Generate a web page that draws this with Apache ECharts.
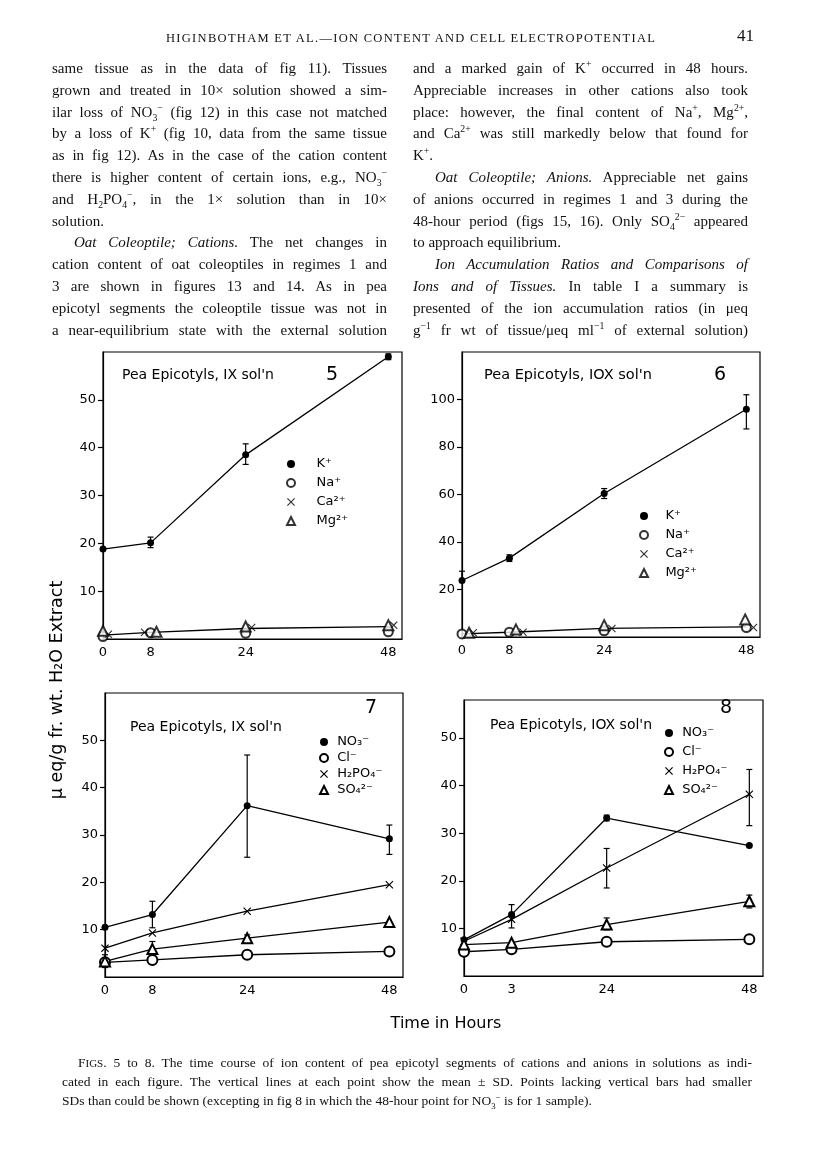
<!DOCTYPE html>
<html><head><meta charset="utf-8">
<script src="https://cdn.jsdelivr.net/npm/echarts@6.0.0/dist/echarts.min.js"></script>
<style>
html,body{margin:0;padding:0;background:#fff;}
#page{position:relative;width:816px;height:1152px;background:#fff;overflow:hidden;}
#chart{position:absolute;left:0;top:0;width:816px;height:1152px;}
.t{position:absolute;font-family:'Liberation Serif',serif;color:#111;white-space:nowrap;display:inline-block;}
.body{font-size:15px;line-height:20px;}
.cap{font-size:13.5px;line-height:18px;}
sub,sup{font-size:65%;line-height:0;}
.sc{font-size:11px;}
</style>
</head><body>
<div id="page"><div id="chart"></div><div id="txt"></div></div>
<script>
// ---------------- data ----------------
const hours = [0, 8, 24, 48];
const xLabels5 = ['0', '8', '24', '48'];
const xLabels6 = ['0', '8', '24', '48'];
const xLabels7 = ['0', '8', '24', '48'];
const xLabels8 = ['0', '3', '24', '48'];
const yTicks5 = [10, 20, 30, 40, 50];
const yTicks6 = [20, 40, 60, 80, 100];
const yTicks7 = [10, 20, 30, 40, 50];
const yTicks8 = [10, 20, 30, 40, 50];

// Fig 5 (cations, 1X)
const f5K = [18.8, 20.1, 38.5, 59.0];
const f5Na = [0.5, 1.3, 1.2, 1.5];
const f5CaX = [0.9, 7, 25, 48.9];
const f5Ca = [1.0, 1.4, 2.4, 2.9];
const f5MgX = [0, 9, 24, 48];
const f5Mg = [1.7, 1.5, 2.6, 2.9];
const f5Minor = [0.8, 1.4, 2.2, 2.6];
const f5Err = [[8, 19.1, 21.3], [24, 36.5, 40.8], [48, 58.4, 59.6]];

// Fig 6 (cations, 10X)
const f6K = [23.8, 33.2, 60.4, 95.9];
const f6Na = [1.3, 2.0, 2.6, 4.0];
const f6CaX = [1.9, 10.3, 25.3, 49.2];
const f6Ca = [1.8, 2.0, 3.6, 4.0];
const f6MgX = [1.2, 9.1, 24, 47.8];
const f6Mg = [1.8, 3.2, 5.0, 7.4];
const f6Minor = [1.3, 2.0, 3.6, 4.3];
const f6Err = [[0, 23.8, 27.7], [8, 31.8, 34.6], [24, 58.3, 62.5], [48, 87.6, 102]];

// Fig 7 (anions, 1X)
const f7NO3 = [10.5, 13.2, 36.2, 29.2];
const f7Cl = [3.1, 3.6, 4.7, 5.4];
const f7H2PO4 = [6.1, 9.3, 13.9, 19.5];
const f7SO4 = [3.3, 5.9, 8.2, 11.6];
const f7Err = [[0, 2.0, 4.7], [8, 10.4, 16.0], [8, 4.3, 7.5], [24, 25.3, 46.9], [24, 7.6, 8.9], [48, 25.9, 32.1]];

// Fig 8 (anions, 10X)
const f8NO3 = [7.6, 12.9, 33.2, 27.4];
const f8Cl = [5.1, 5.6, 7.2, 7.7];
const f8H2PO4 = [7.3, 11.9, 22.7, 38.2];
const f8SO4 = [6.6, 7.0, 10.8, 15.7];
const f8Err = [[8, 10.1, 15.0], [24, 32.6, 33.8], [24, 18.5, 26.8], [24, 9.7, 12.2], [48, 31.6, 43.4], [48, 14.3, 17.0]];

// ---------------- text ----------------
const headerText = 'HIGINBOTHAM ET AL.\u2014ION CONTENT AND CELL ELECTROPOTENTIAL';
const leftCol = [
  ['same tissue as in the data of fig 11). Tissues', 1],
  ['grown and treated in 10\u00d7 solution showed a sim-', 1],
  ['ilar loss of NO<sub>3</sub><sup>\u2212</sup> (fig 12) in this case not matched', 1],
  ['by a loss of K<sup>+</sup> (fig 10, data from the same tissue', 1],
  ['as in fig 12). As in the case of the cation content', 1],
  ['there is higher content of certain ions, e.g., NO<sub>3</sub><sup>\u2212</sup>', 1],
  ['and H<sub>2</sub>PO<sub>4</sub><sup>\u2212</sup>, in the 1\u00d7 solution than in 10\u00d7', 1],
  ['solution.', 0],
  ['<i>Oat Coleoptile; Cations.</i> The net changes in', 2],
  ['cation content of oat coleoptiles in regimes 1 and', 1],
  ['3 are shown in figures 13 and 14. As in pea', 1],
  ['epicotyl segments the coleoptile tissue was not in', 1],
  ['a near-equilibrium state with the external solution', 1]
];
const rightCol = [
  ['and a marked gain of K<sup>+</sup> occurred in 48 hours.', 1],
  ['Appreciable increases in other cations also took', 1],
  ['place: however, the final content of Na<sup>+</sup>, Mg<sup>2+</sup>,', 1],
  ['and Ca<sup>2+</sup> was still markedly below that found for', 1],
  ['K<sup>+</sup>.', 0],
  ['<i>Oat Coleoptile; Anions.</i> Appreciable net gains', 2],
  ['of anions occurred in regimes 1 and 3 during the', 1],
  ['48-hour period (figs 15, 16). Only SO<sub>4</sub><sup>2\u2212</sup> appeared', 1],
  ['to approach equilibrium.', 0],
  ['<i>Ion Accumulation Ratios and Comparisons of</i>', 2],
  ['<i>Ions and of Tissues.</i> In table I a summary is', 1],
  ['presented of the ion accumulation ratios (in \u03bceq', 1],
  ['g<sup>\u22121</sup> fr wt of tissue/\u03bceq ml<sup>\u22121</sup> of external solution)', 1]
];
const captionLines = [
  ['F<span class="sc">IGS</span>. 5 to 8. The time course of ion content of pea epicotyl segments of cations and anions in solutions as indi-', 2],
  ['cated in each figure. The vertical lines at each point show the mean \u00b1 SD. Points lacking vertical bars had smaller', 1],
  ['SDs than could be shown (excepting in fig 8 in which the 48-hour point for NO<sub>3</sub><sup>\u2212</sup> is for 1 sample).', 0]
];

const txt = document.getElementById('txt');
function addLine(html, cls, x, y, w, mode) {
  const s = document.createElement('span');
  s.className = 't ' + cls;
  s.innerHTML = html;
  s.style.left = x + 'px';
  s.style.top = y + 'px';
  if (mode) s.dataset.w = w;
  txt.appendChild(s);
  return s;
}
// header
const hd = addLine(headerText, 'body', 166, 28, 0, 0);
hd.style.fontSize = '12.5px'; hd.dataset.lw = 489;
const pn = addLine('41', 'body', 737, 26, 0, 0); pn.style.fontSize = '17px';
leftCol.forEach((l, i) => {
  const ind = l[1] === 2 ? 22 : 0;
  addLine(l[0], 'body', 52 + ind, 58 + i * 21.8, 335 - ind, l[1]);
});
rightCol.forEach((l, i) => {
  const ind = l[1] === 2 ? 22 : 0;
  addLine(l[0], 'body', 413 + ind, 58 + i * 21.8, 335 - ind, l[1]);
});
captionLines.forEach((l, i) => {
  const x = l[1] === 2 ? 78 : 62;
  addLine(l[0], 'cap', x, 1054 + i * 19, 752 - x, l[1]);
});
function justify() {
  txt.querySelectorAll('.t').forEach(el => {
    if (el.dataset.w) {
      el.style.wordSpacing = '0px';
      const w = el.getBoundingClientRect().width;
      const n = (el.textContent.match(/ /g) || []).length;
      if (n) el.style.wordSpacing = ((parseFloat(el.dataset.w) - w) / n) + 'px';
    }
    if (el.dataset.lw) {
      el.style.letterSpacing = '0px';
      const w = el.getBoundingClientRect().width;
      const n = el.textContent.length - 1;
      el.style.letterSpacing = ((parseFloat(el.dataset.lw) - w) / n) + 'px';
    }
  });
}
justify();

// ---------------- chart ----------------
const FONT = 'DejaVu Sans';
const SYM_X = 'path://M0,1L1,0L5,4L9,0L10,1L6,5L10,9L9,10L5,6L1,10L0,9L4,5Z';
const grids = [
  {left: 103, top: 352, width: 299, height: 287},
  {left: 462, top: 352, width: 298, height: 285},
  {left: 105, top: 693, width: 298, height: 284},
  {left: 464, top: 700, width: 299, height: 276}
].map(g => Object.assign(g, {show: true, borderColor: '#000', borderWidth: 1.2, backgroundColor: 'transparent'}));

function xAx(idx, labels) {
  return {type: 'value', gridIndex: idx, min: 0, max: 50.3,
    axisLine: {show: true, onZero: false, lineStyle: {color: '#000', width: 1.2}},
    axisTick: {show: false}, splitLine: {show: false},
    axisLabel: {customValues: hours, formatter: v => labels[hours.indexOf(v)], color: '#000', fontSize: 13, fontFamily: FONT, margin: 7}};
}
function yAx(idx, max, ticks) {
  return {type: 'value', gridIndex: idx, min: 0, max: max,
    axisLine: {show: true, onZero: false, lineStyle: {color: '#000', width: 1.2}},
    axisTick: {show: true, customValues: ticks, length: 5, lineStyle: {color: '#000', width: 1.2}},
    axisLabel: {customValues: ticks, color: '#000', fontSize: 13, fontFamily: FONT, margin: 7},
    splitLine: {show: false}};
}
const pts = (xs, ys) => xs.map((x, i) => [x, ys[i]]);
function lineS(idx, name, data, symbol, size, z) {
  return {type: 'line', name, xAxisIndex: idx, yAxisIndex: idx, data, symbol, symbolSize: size,
    showSymbol: symbol !== 'none', lineStyle: {color: '#000', width: 1.3}, itemStyle: {color: '#000', borderWidth: 1.2},
    z: z || 3, animation: false, silent: true};
}
function scatS(idx, name, data, symbol, size) {
  return {type: 'scatter', name, xAxisIndex: idx, yAxisIndex: idx, data, symbol, symbolSize: size,
    itemStyle: {color: '#000', borderWidth: 1.2}, z: 4, animation: false, silent: true};
}
function errS(idx, data) {
  return {type: 'custom', xAxisIndex: idx, yAxisIndex: idx, data, z: 2, silent: true, animation: false,
    encode: {x: 0, y: [1, 2]},
    renderItem(params, api) {
      const x = api.value(0), p1 = api.coord([x, api.value(1)]), p2 = api.coord([x, api.value(2)]);
      const st = {stroke: '#000', lineWidth: 1.2}, w = 3;
      return {type: 'group', children: [
        {type: 'line', shape: {x1: p1[0], y1: p1[1], x2: p2[0], y2: p2[1]}, style: st},
        {type: 'line', shape: {x1: p1[0] - w, y1: p1[1], x2: p1[0] + w, y2: p1[1]}, style: st},
        {type: 'line', shape: {x1: p2[0] - w, y1: p2[1], x2: p2[0] + w, y2: p2[1]}, style: st}
      ]};
    }};
}
const catNames = ['K\u207a', 'Na\u207a', 'Ca\u00b2\u207a', 'Mg\u00b2\u207a'];
const anNames = ['NO\u2083\u207b', 'Cl\u207b', 'H\u2082PO\u2084\u207b', 'SO\u2084\u00b2\u207b'];
const icons = ['circle', 'emptyCircle', SYM_X, 'emptyTriangle'];
function legendAt(names, left, top, gap, spaces) {
  const pad = ' '.repeat(spaces);
  return {left, top, padding: 0, orient: 'vertical', itemGap: gap, itemWidth: 8, itemHeight: 8, selectedMode: false,
    data: names.map((n, i) => ({name: n, icon: icons[i]})),
    formatter: n => pad + n,
    textStyle: {color: '#000', fontSize: 13, fontFamily: FONT}};
}

const series = [
  // Fig 5
  errS(0, f5Err),
  lineS(0, 'f5minor', pts(hours, f5Minor), 'none', 0, 2),
  lineS(0, catNames[0], pts(hours, f5K), 'circle', 7),
  scatS(0, catNames[1], pts(hours, f5Na), 'emptyCircle', 9),
  scatS(0, catNames[2], pts(f5CaX, f5Ca), SYM_X, 8),
  scatS(0, catNames[3], pts(f5MgX, f5Mg), 'emptyTriangle', 10),
  // Fig 6
  errS(1, f6Err),
  lineS(1, 'f6minor', pts(hours, f6Minor), 'none', 0, 2),
  lineS(1, catNames[0], pts(hours, f6K), 'circle', 7),
  scatS(1, catNames[1], pts(hours, f6Na), 'emptyCircle', 9),
  scatS(1, catNames[2], pts(f6CaX, f6Ca), SYM_X, 8),
  scatS(1, catNames[3], pts(f6MgX, f6Mg), 'emptyTriangle', 10),
  // Fig 7
  errS(2, f7Err),
  lineS(2, anNames[0], pts(hours, f7NO3), 'circle', 7),
  lineS(2, anNames[1], pts(hours, f7Cl), 'emptyCircle', 10),
  lineS(2, anNames[2], pts(hours, f7H2PO4), SYM_X, 8),
  lineS(2, anNames[3], pts(hours, f7SO4), 'emptyTriangle', 10),
  // Fig 8
  errS(3, f8Err),
  lineS(3, anNames[0], pts(hours, f8NO3), 'circle', 7),
  lineS(3, anNames[1], pts(hours, f8Cl), 'emptyCircle', 10),
  lineS(3, anNames[2], pts(hours, f8H2PO4), SYM_X, 8),
  lineS(3, anNames[3], pts(hours, f8SO4), 'emptyTriangle', 10)
];

function gtext(x, y, text, size, extra) {
  return Object.assign({type: 'text', x, y, style: {text, fill: '#000', font: size + 'px "' + FONT + '"', textVerticalAlign: 'middle'}}, extra || {});
}
const graphic = [
  gtext(122, 375, "Pea Epicotyls, IX sol'n", 14),
  gtext(326, 375, '5', 19),
  gtext(484, 375, "Pea Epicotyls, IOX sol'n", 14.5),
  gtext(714, 375, '6', 19),
  gtext(130, 727, "Pea Epicotyls, IX sol'n", 14),
  gtext(365, 708, '7', 19),
  gtext(490, 725, "Pea Epicotyls, IOX sol'n", 14),
  gtext(720, 708, '8', 19),
  {type: 'text', x: 57, y: 690, rotation: Math.PI / 2,
   style: {text: '\u03bc eq/g fr. wt. H\u2082O Extract', fill: '#000', font: '17.5px "' + FONT + '"', textAlign: 'center', textVerticalAlign: 'middle'}},
  {type: 'text', x: 446, y: 1024,
   style: {text: 'Time in Hours', fill: '#000', font: '16px "' + FONT + '"', textAlign: 'center', textVerticalAlign: 'middle'}}
];

const chart = echarts.init(document.getElementById('chart'), null, {renderer: 'canvas'});
chart.setOption({
  animation: false,
  backgroundColor: 'transparent',
  grid: grids,
  xAxis: [xAx(0, xLabels5), xAx(1, xLabels6), xAx(2, xLabels7), xAx(3, xLabels8)],
  yAxis: [yAx(0, 60, yTicks5), yAx(1, 120, yTicks6), yAx(2, 60, yTicks7), yAx(3, 58, yTicks8)],
  legend: [
    legendAt(catNames, 286, 457.5, 6, 4),
    legendAt(catNames, 639, 509.5, 6, 3),
    legendAt(anNames, 319, 735.5, 3, 1),
    legendAt(anNames, 664, 726.5, 6, 1)
  ],
  graphic,
  series
});
</script>
</body></html>
